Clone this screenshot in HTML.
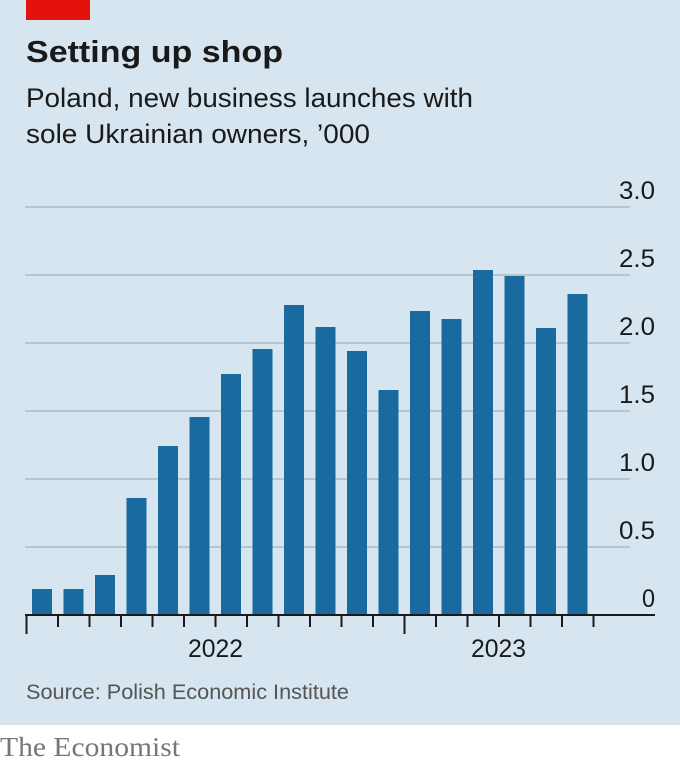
<!DOCTYPE html>
<html><head><meta charset="utf-8"><style>
body{margin:0;width:680px;height:766px;background:#fff;overflow:hidden}
</style></head><body>
<svg width="680" height="766" xmlns="http://www.w3.org/2000/svg" style="display:block">
<rect x="0" y="0" width="680" height="725" fill="#d6e5ef"/>
<rect x="26" y="0" width="64" height="20" fill="#e3120b"/>
<text x="26" y="62" font-family="Liberation Sans, sans-serif" font-weight="bold" font-size="31" fill="#1a1a1a" textLength="257" lengthAdjust="spacingAndGlyphs">Setting up shop</text>
<text x="26" y="107" font-family="Liberation Sans, sans-serif" font-size="27" fill="#1a1a1a" textLength="447" lengthAdjust="spacingAndGlyphs">Poland, new business launches with</text>
<text x="26" y="143" font-family="Liberation Sans, sans-serif" font-size="27" fill="#1a1a1a" textLength="344" lengthAdjust="spacingAndGlyphs">sole Ukrainian owners, ’000</text>
<g stroke="#a3b3bf" stroke-width="1.3">
<line x1="25" y1="207" x2="630" y2="207"/>
<line x1="25" y1="275" x2="630" y2="275"/>
<line x1="25" y1="343" x2="630" y2="343"/>
<line x1="25" y1="411" x2="630" y2="411"/>
<line x1="25" y1="479" x2="630" y2="479"/>
<line x1="25" y1="547" x2="630" y2="547"/>
</g>
<g font-family="Liberation Sans, sans-serif" font-size="25" fill="#1a1a1a" text-anchor="end">
<text x="655" y="199" textLength="36" lengthAdjust="spacingAndGlyphs">3.0</text>
<text x="655" y="267" textLength="36" lengthAdjust="spacingAndGlyphs">2.5</text>
<text x="655" y="335" textLength="36" lengthAdjust="spacingAndGlyphs">2.0</text>
<text x="655" y="403" textLength="36" lengthAdjust="spacingAndGlyphs">1.5</text>
<text x="655" y="471" textLength="36" lengthAdjust="spacingAndGlyphs">1.0</text>
<text x="655" y="539" textLength="36" lengthAdjust="spacingAndGlyphs">0.5</text>
<text x="655" y="607" textLength="13" lengthAdjust="spacingAndGlyphs">0</text>
</g>
<g fill="#1a6aa0">
<rect x="32" y="589" width="20" height="26"/>
<rect x="63.5" y="589" width="20" height="26"/>
<rect x="95" y="575" width="20" height="40"/>
<rect x="126.5" y="498" width="20" height="117"/>
<rect x="158" y="446" width="20" height="169"/>
<rect x="189.5" y="417" width="20" height="198"/>
<rect x="221" y="374" width="20" height="241"/>
<rect x="252.5" y="349" width="20" height="266"/>
<rect x="284" y="305" width="20" height="310"/>
<rect x="315.5" y="327" width="20" height="288"/>
<rect x="347" y="351" width="20" height="264"/>
<rect x="378.5" y="390" width="20" height="225"/>
<rect x="410" y="311" width="20" height="304"/>
<rect x="441.5" y="319" width="20" height="296"/>
<rect x="473" y="270" width="20" height="345"/>
<rect x="504.5" y="276" width="20" height="339"/>
<rect x="536" y="328" width="20" height="287"/>
<rect x="567.5" y="294" width="20" height="321"/>
</g>
<line x1="25" y1="615" x2="655" y2="615" stroke="#1a1a1a" stroke-width="2"/>
<g stroke="#1a1a1a" stroke-width="2">
<line x1="26.5" y1="615" x2="26.5" y2="634"/>
<line x1="58" y1="615" x2="58" y2="627"/>
<line x1="89.5" y1="615" x2="89.5" y2="627"/>
<line x1="121" y1="615" x2="121" y2="627"/>
<line x1="152.5" y1="615" x2="152.5" y2="627"/>
<line x1="184" y1="615" x2="184" y2="627"/>
<line x1="215.5" y1="615" x2="215.5" y2="627"/>
<line x1="247" y1="615" x2="247" y2="627"/>
<line x1="278.5" y1="615" x2="278.5" y2="627"/>
<line x1="310" y1="615" x2="310" y2="627"/>
<line x1="341.5" y1="615" x2="341.5" y2="627"/>
<line x1="373" y1="615" x2="373" y2="627"/>
<line x1="404.5" y1="615" x2="404.5" y2="634"/>
<line x1="436" y1="615" x2="436" y2="627"/>
<line x1="467.5" y1="615" x2="467.5" y2="627"/>
<line x1="499" y1="615" x2="499" y2="627"/>
<line x1="530.5" y1="615" x2="530.5" y2="627"/>
<line x1="562" y1="615" x2="562" y2="627"/>
<line x1="593.5" y1="615" x2="593.5" y2="627"/>
</g>
<g font-family="Liberation Sans, sans-serif" font-size="25" fill="#1a1a1a">
<text x="188" y="657" textLength="55" lengthAdjust="spacingAndGlyphs">2022</text>
<text x="471" y="657" textLength="55" lengthAdjust="spacingAndGlyphs">2023</text>
</g>
<text x="26" y="699" font-family="Liberation Sans, sans-serif" font-size="21" fill="#555" textLength="323" lengthAdjust="spacingAndGlyphs">Source: Polish Economic Institute</text>
<text x="0" y="756" font-family="Liberation Serif, serif" font-size="27" fill="#777" textLength="180" lengthAdjust="spacingAndGlyphs">The Economist</text>
</svg>
</body></html>
